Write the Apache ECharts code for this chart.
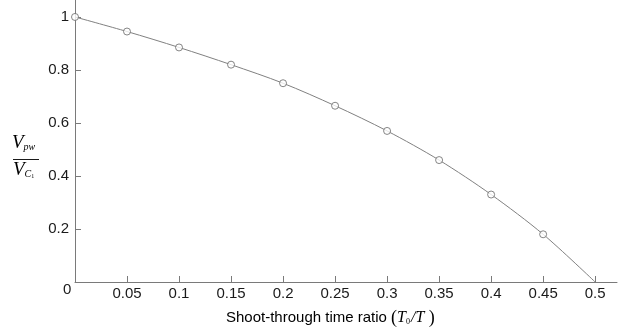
<!DOCTYPE html>
<html>
<head>
<meta charset="utf-8">
<script src="https://cdn.jsdelivr.net/npm/echarts@6/dist/echarts.min.js"></script>
<style>
  html, body { margin: 0; padding: 0; background: #fff; }
  #chart { width: 623px; height: 333px; }
</style>
</head>
<body>
<div id="chart"></div>
<script>
// 占空比 (T0/T) 与电压比
const ratio = [0, 0.05, 0.1, 0.15, 0.2, 0.25, 0.3, 0.35, 0.4, 0.45, 0.5];
const voltageRatio = [1, 0.945, 0.885, 0.82, 0.75, 0.665, 0.57, 0.46, 0.33, 0.18, 0];
const xTicks = [0.05, 0.1, 0.15, 0.2, 0.25, 0.3, 0.35, 0.4, 0.45, 0.5];
const yTicks = [0.2, 0.4, 0.6, 0.8, 1];

const chart = echarts.init(document.getElementById('chart'));

const axisColor = '#7a7a7a';
const textColor = '#1a1a1a';
const sans = 'Liberation Sans, Arial, sans-serif';
const serif = 'Liberation Serif, DejaVu Serif, serif';
const labelFont = { color: textColor, fontSize: 15, fontFamily: sans };

// 曲线和标记点（最后一个点不画标记）
const linePoints = ratio.map((x, i) => [x, voltageRatio[i]]);
const markerPoints = linePoints.slice(0, linePoints.length - 1);

const option = {
  animation: false,
  grid: { left: 75, right: 6, top: 0, bottom: 51 },
  xAxis: {
    type: 'value',
    min: 0,
    max: 0.521,
    axisLine: { show: true, lineStyle: { color: axisColor, width: 1 } },
    axisTick: { show: true, inside: true, length: 6, customValues: xTicks, lineStyle: { color: axisColor } },
    axisLabel: Object.assign({ margin: 4, customValues: xTicks, formatter: v => String(v) }, labelFont),
    splitLine: { show: false }
  },
  yAxis: {
    type: 'value',
    min: 0,
    max: 1.064,
    axisLine: { show: true, lineStyle: { color: axisColor, width: 1 } },
    axisTick: { show: true, inside: true, length: 6, customValues: yTicks, lineStyle: { color: axisColor } },
    axisLabel: Object.assign({ margin: 6, customValues: yTicks, formatter: v => String(v) }, labelFont),
    splitLine: { show: false }
  },
  graphic: [
    // 原点的 "0"
    { type: 'text', left: 63, top: 282, style: { text: '0', fill: textColor, font: '15px ' + sans } },
    // x 轴标题
    {
      type: 'text', left: 226, top: 309,
      style: {
        text: '{a|Shoot-through time ratio }{b|(}{i|T}{s|0}{i|/T}{b| )}',
        rich: {
          a: { fontSize: 15, fontFamily: sans, color: textColor },
          b: { fontSize: 18, fontFamily: serif, color: textColor },
          i: { fontSize: 16, fontFamily: serif, fontStyle: 'italic', color: textColor },
          s: { fontSize: 8, fontFamily: serif, color: textColor, padding: [7, 1, 0, 0] }
        }
      }
    },
    // y 轴标题 (分式)
    {
      type: 'text', left: 12, top: 133,
      style: {
        text: '{i|V}{s|pw}',
        rich: {
          i: { fontSize: 19, fontFamily: serif, fontStyle: 'italic', color: textColor },
          s: { fontSize: 10, fontFamily: serif, fontStyle: 'italic', color: textColor, padding: [10, 0, 0, 0] }
        }
      }
    },
    { type: 'line', shape: { x1: 13, y1: 159.5, x2: 39, y2: 159.5 }, style: { stroke: textColor, lineWidth: 1 } },
    {
      type: 'text', left: 13, top: 160,
      style: {
        text: '{i|V}{s|C}{t|1}',
        rich: {
          i: { fontSize: 19, fontFamily: serif, fontStyle: 'italic', color: textColor },
          s: { fontSize: 10, fontFamily: serif, fontStyle: 'italic', color: textColor, padding: [10, 0, 0, 0] },
          t: { fontSize: 6, fontFamily: serif, color: textColor, padding: [14, 0, 0, 0] }
        }
      }
    }
  ],
  series: [
    {
      type: 'line',
      data: linePoints,
      smooth: 0.3,
      showSymbol: false,
      lineStyle: { color: '#808080', width: 1 },
      z: 2
    },
    {
      type: 'scatter',
      data: markerPoints,
      symbol: 'circle',
      symbolSize: 7,
      itemStyle: { color: '#ffffff', borderColor: '#666666', borderWidth: 1 },
      z: 3
    }
  ]
};

chart.setOption(option);
</script>
</body>
</html>
